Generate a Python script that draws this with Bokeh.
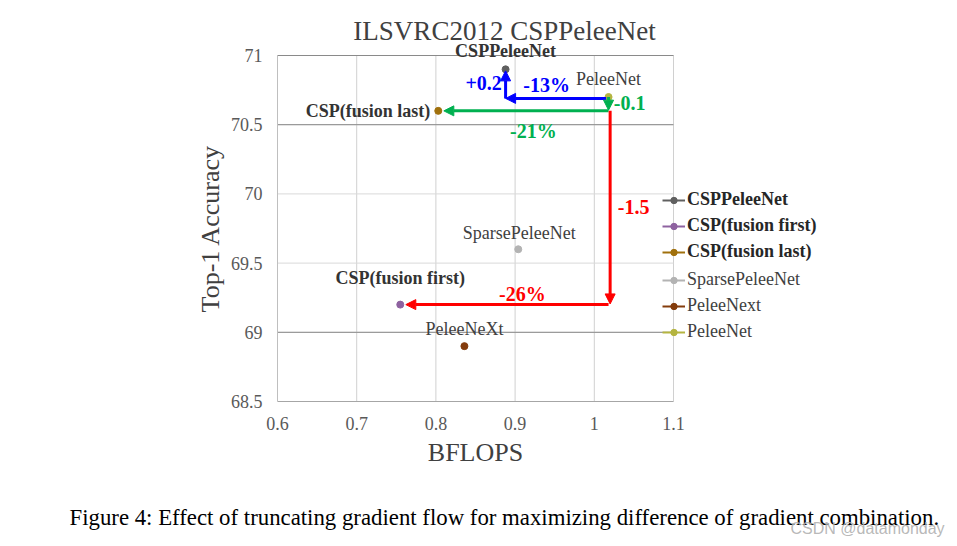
from bokeh.plotting import figure
from bokeh.models import (Range1d, FixedTicker, Label, Arrow, NormalHead,
                          Legend, LegendItem)
from bokeh.embed import file_html
from bokeh.resources import INLINE

# ---------------- data ----------------
models = ["CSPPeleeNet", "CSP(fusion first)", "CSP(fusion last)",
          "SparsePeleeNet", "PeleeNext", "PeleeNet"]
point_labels = ["CSPPeleeNet", "CSP(fusion first)", "CSP(fusion last)",
                "SparsePeleeNet", "PeleeNeXt", "PeleeNet"]
bflops = [0.888, 0.755, 0.803, 0.904, 0.836, 1.018]
top1 = [70.9, 69.2, 70.6, 69.6, 68.9, 70.7]
bold_flags = [True, True, True, False, False, False]

x_ticks = [0.6, 0.7, 0.8, 0.9, 1.0, 1.1]
x_tick_labels = ["0.6", "0.7", "0.8", "0.9", "1", "1.1"]
y_ticks = [68.5, 69.0, 69.5, 70.0, 70.5, 71.0]
y_tick_labels = ["68.5", "69", "69.5", "70", "70.5", "71"]
dark_grid_y = [71.0, 70.5, 69.0]

delta_texts = ["+0.2", "-13%", "-0.1", "-21%", "-1.5", "-26%"]

title_text = "ILSVRC2012 CSPPeleeNet"
caption_text = ("Figure 4: Effect of truncating gradient flow for maximizing "
                "difference of gradient combination.")
watermark_text = "CSDN @datamonday"

# ---------------- layout / styles ----------------
W, H = 950, 542
PLOT_L, PLOT_R, PLOT_T, PLOT_B = 277, 673, 55, 401   # pixel box of the axes
colors = ["#606060", "#8e62a0", "#a0700c", "#b3b3b3", "#843c0c", "#b5b540"]
SERIF = "Liberation Serif"
BLUE, GREEN, RED = "#0000ff", "#00b050", "#ff0000"

x0, x1 = x_ticks[0], x_ticks[-1]
y0, y1 = y_ticks[0], y_ticks[-1]
kx = (x1 - x0) / (PLOT_R - PLOT_L)
ky = (y1 - y0) / (PLOT_B - PLOT_T)
x_range = Range1d(x0 - PLOT_L * kx, x1 + (W - PLOT_R) * kx)
y_range = Range1d(y0 - (H - PLOT_B) * ky, y1 + PLOT_T * ky)

p = figure(width=W, height=H, min_border=0,
           x_range=x_range, y_range=y_range,
           output_backend="svg", toolbar_location=None,
           background_fill_color="white", border_fill_color="white")
p.outline_line_color = None
p.title.text = ""
p.xgrid.visible = False
p.ygrid.visible = False

# axes, pinned to the data box
for ax in (p.xaxis[0], p.yaxis[0]):
    ax.major_tick_line_color = None
    ax.minor_tick_line_color = None
    ax.major_tick_out = 0
    ax.major_tick_in = 0
    ax.major_label_text_font = SERIF
    ax.major_label_text_font_size = "18px"
    ax.major_label_text_color = "#595959"
    ax.axis_label_text_font = SERIF
    ax.axis_label_text_font_size = "26px"
    ax.axis_label_text_font_style = "normal"
    ax.axis_label_text_color = "#404040"

xa = p.xaxis[0]
xa.fixed_location = y0
xa.bounds = (x0, x1)
xa.ticker = FixedTicker(ticks=x_ticks)
xa.major_label_overrides = dict(zip(x_ticks, x_tick_labels))
xa.axis_line_color = "#a6a6a6"
xa.major_label_standoff = 15
xa.axis_label = "BFLOPS"
xa.axis_label_standoff = 5

ya = p.yaxis[0]
ya.fixed_location = x0
ya.bounds = (y0, y1)
ya.ticker = FixedTicker(ticks=y_ticks)
ya.major_label_overrides = dict(zip(y_ticks, y_tick_labels))
ya.axis_line_color = "#bfbfbf"
ya.major_label_standoff = 15
ya.axis_label = "Top-1 Accuracy"
ya.axis_label_standoff = 3

# grid lines from the ticks
vx = x_ticks[1:]
p.segment(x0=vx, y0=[y0] * len(vx), x1=vx, y1=[y1] * len(vx),
          line_color="#d0d0d0", line_width=1, level="underlay")
hy = y_ticks[1:]
p.segment(x0=[x0] * len(hy), y0=hy, x1=[x1] * len(hy), y1=hy,
          line_color="#d9d9d9", line_width=1, level="underlay")
p.segment(x0=[x0] * len(dark_grid_y), y0=dark_grid_y,
          x1=[x1] * len(dark_grid_y), y1=dark_grid_y,
          line_color="#8a8a8a", line_width=1, level="underlay")

# ---------------- arrows (built from the data points) ----------------
iCSP, iFF, iFL, iSP, iNX, iPN = range(6)
gx, gy = 0.007, 0.011


def arrow(xs, ys, xe, ye, c):
    p.add_layout(Arrow(x_start=xs, y_start=ys, x_end=xe, y_end=ye,
                       line_color=c, line_width=3,
                       end=NormalHead(size=10, fill_color=c, line_color=c,
                                      line_width=1)))


# blue: PeleeNet -> CSPPeleeNet
arrow(bflops[iPN] - 0.003, top1[iPN] - 0.01, bflops[iCSP], top1[iPN] - 0.01, BLUE)
arrow(bflops[iCSP], top1[iPN] - 0.01, bflops[iCSP], top1[iCSP] - gy, BLUE)
# green: PeleeNet -> CSP(fusion last)
arrow(bflops[iPN], top1[iPN], bflops[iPN], top1[iFL] + 0.005, GREEN)
arrow(bflops[iPN], top1[iFL], bflops[iFL] + gx, top1[iFL], GREEN)
# red: -> CSP(fusion first)
arrow(bflops[iPN] + 0.002, top1[iFL], bflops[iPN] + 0.002, top1[iFF] + 0.005, RED)
arrow(bflops[iPN], top1[iFF], bflops[iFF] + gx, top1[iFF], RED)

# ---------------- points + legend renderers ----------------
line_rs, pt_rs = [], []
for i in range(len(models)):
    lr = p.line(x=[bflops[i]], y=[top1[i]], line_color=colors[i], line_width=2)
    sr = p.scatter(x=[bflops[i]], y=[top1[i]], size=7, marker="circle",
                   fill_color=colors[i], line_color=colors[i])
    line_rs.append(lr)
    pt_rs.append(sr)

leg_common = dict(orientation="vertical", padding=0, margin=0, spacing=5,
                  glyph_width=23, glyph_height=16, label_height=21,
                  label_standoff=2, label_text_font=SERIF,
                  label_text_font_size="18px", background_fill_alpha=0,
                  border_line_alpha=0, label_text_baseline="middle")
leg1 = Legend(items=[LegendItem(label=models[i], renderers=[line_rs[i], pt_rs[i]])
                     for i in range(3)],
              location=(662, 280), label_text_font_style="bold",
              label_text_color="#262626", **leg_common)
leg2 = Legend(items=[LegendItem(label=models[i], renderers=[line_rs[i], pt_rs[i]])
                     for i in range(3, 6)],
              location=(662, 200), label_text_font_style="normal",
              label_text_color="#404040", **leg_common)
p.add_layout(leg1)
p.add_layout(leg2)

# ---------------- point labels ----------------
label_offsets = {iCSP: (0, 18, "center"), iFF: (0, 27, "center"),
                 iFL: (-8, 0, "right"), iSP: (1, 16, "center"),
                 iNX: (0, 17, "center"), iPN: (0, 18, "center")}
for i, (dx, dy, al) in label_offsets.items():
    p.add_layout(Label(x=bflops[i], y=top1[i], x_offset=dx, y_offset=dy,
                       text=point_labels[i], text_align=al,
                       text_baseline="middle", text_font=SERIF,
                       text_font_size="18px",
                       text_font_style="bold" if bold_flags[i] else "normal",
                       text_color="#333333" if bold_flags[i] else "#404040"))

# ---------------- delta labels ----------------
mid_green_x = (bflops[iFL] + bflops[iPN]) / 2
mid_red_x = (bflops[iFF] + bflops[iPN]) / 2
mid_red_y = (top1[iFL] + top1[iFF]) / 2
delta_specs = [
    (bflops[iCSP], top1[iPN], -22, 14, BLUE),
    (bflops[iCSP], top1[iPN], 41, 12, BLUE),
    (bflops[iPN], top1[iPN], 21, -6, GREEN),
    (mid_green_x, top1[iFL], 10, -20, GREEN),
    (bflops[iPN], mid_red_y, 25, 1, RED),
    (mid_red_x, top1[iFF], 18, 11, RED),
]
for txt, (x, y, dx, dy, c) in zip(delta_texts, delta_specs):
    p.add_layout(Label(x=x, y=y, x_offset=dx, y_offset=dy, text=txt,
                       text_align="center", text_baseline="middle",
                       text_font=SERIF, text_font_size="20px",
                       text_font_style="bold", text_color=c))

# ---------------- title, caption & watermark ----------------
p.add_layout(Label(x=504, y=H - 30, x_units="screen", y_units="screen",
                   text=title_text, text_font=SERIF, text_font_size="27px",
                   text_color="#404040", text_align="center",
                   text_baseline="middle"))
p.add_layout(Label(x=69, y=H - 517, x_units="screen", y_units="screen",
                   text=caption_text, text_font=SERIF, text_font_size="22.8px",
                   text_color="#000000", text_align="left",
                   text_baseline="middle"))
p.add_layout(Label(x=790, y=H - 528, x_units="screen", y_units="screen",
                   text=watermark_text, text_font="Liberation Sans",
                   text_font_size="16px", text_color="#b0b0b0",
                   text_alpha=0.9, text_align="left",
                   text_baseline="middle"))

open("out.html", "w").write(file_html(p, INLINE))
